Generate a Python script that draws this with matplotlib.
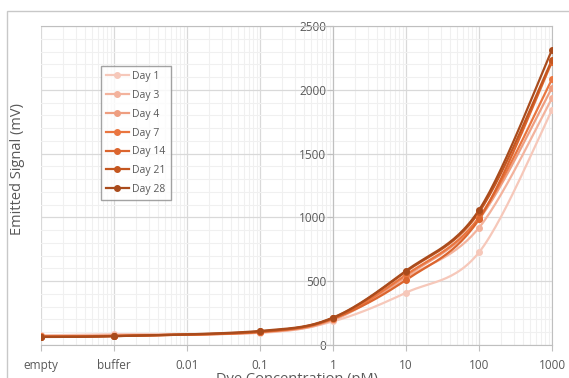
import numpy as np
import matplotlib
matplotlib.use("Agg")
import matplotlib.pyplot as plt
from matplotlib.ticker import LogLocator, MultipleLocator, NullFormatter
from matplotlib.patches import Rectangle

plt.rcParams['font.family'] = ['Open Sans', 'DejaVu Sans']

# concentrations (empty / buffer placed one decade apart below 0.01)
conc = [1e-4, 1e-3, 0.1, 1, 10, 100, 1000]
tick_pos = [1e-4, 1e-3, 0.01, 0.1, 1, 10, 100, 1000]
tick_lab = ["empty", "buffer", "0.01", "0.1", "1", "10", "100", "1000"]

days = ["Day 1", "Day 3", "Day 4", "Day 7", "Day 14", "Day 21", "Day 28"]
day1 = [75, 85, 95, 185, 410, 726, 1842]
day3 = [72, 75, 98, 195, 525, 919, 1933]
day4 = [70, 73, 100, 200, 540, 985, 2016]
day7 = [68, 72, 102, 205, 550, 1000, 2082]
day14 = [66, 70, 104, 208, 510, 985, 2218]
day21 = [64, 70, 106, 212, 575, 1040, 2233]
day28 = [63, 69, 110, 215, 582, 1058, 2312]
series = [day1, day3, day4, day7, day14, day21, day28]
colors = ["#F6C8BA", "#F3B39D", "#EE9E80", "#EA7640", "#DB652E", "#C4561F", "#A94B1C"]


def smooth(xs, ys, n=30):
    # Excel style smoothing (catmull-rom) in log-x space
    lx = np.log10(xs)
    y = np.array(ys, float)
    px = np.concatenate([[lx[0]], lx, [lx[-1]]])
    py = np.concatenate([[y[0]], y, [y[-1]]])
    outx, outy = [], []
    for i in range(1, len(px) - 2):
        p0 = np.array([px[i], py[i]])
        p3 = np.array([px[i + 1], py[i + 1]])
        c1 = p0 + (np.array([px[i + 1], py[i + 1]]) - np.array([px[i - 1], py[i - 1]])) / 6
        c2 = p3 - (np.array([px[i + 2], py[i + 2]]) - np.array([px[i], py[i]])) / 6
        t = np.linspace(0, 1, n)[:, None]
        b = (1 - t) ** 3 * p0 + 3 * (1 - t) ** 2 * t * c1 + 3 * (1 - t) * t ** 2 * c2 + t ** 3 * p3
        outx.extend(b[:, 0])
        outy.extend(b[:, 1])
    return 10 ** np.array(outx), np.array(outy)


fig = plt.figure(figsize=(5.69, 3.78), dpi=100)
fig.patches.append(Rectangle((7 / 569, -0.1), 1.2, 1 - 11 / 378 + 0.1, transform=fig.transFigure,
                             fill=False, edgecolor="#C8C8C8", linewidth=1.0))
ax = fig.add_axes([41 / 569, 33 / 378, 511 / 569, 319 / 378])

for name, vals, c in zip(days, series, colors):
    sx, sy = smooth(conc, vals)
    ax.plot(sx, sy, color=c, linewidth=1.6, zorder=3)
    ax.plot(conc, vals, 'o', color=c, markersize=4, zorder=4)
    ax.plot([], [], '-o', color=c, linewidth=1.6, markersize=4, label=name)

ax.set_xscale("log")
ax.set_xlim(1e-4, 1000)
ax.set_ylim(0, 2500)
ax.set_xticks(tick_pos, tick_lab)
ax.xaxis.set_minor_locator(LogLocator(base=10, subs=np.arange(2, 10), numticks=20))
ax.xaxis.set_minor_formatter(NullFormatter())
ax.yaxis.set_major_locator(MultipleLocator(500))
ax.yaxis.set_minor_locator(MultipleLocator(100))

ax.grid(which="major", color="#D9D9D9", linewidth=0.9)
ax.grid(which="minor", color="#F0F0F0", linewidth=0.8)
ax.set_axisbelow(True)

for s in ["top", "right", "bottom"]:
    ax.spines[s].set_color("#BFBFBF")
ax.spines["left"].set_position(("data", 1))
ax.spines["left"].set_color("#BFBFBF")
ax.spines["left"].set_zorder(2)

ax.tick_params(which="minor", length=0)
ax.tick_params(which="major", colors="#BFBFBF", labelcolor="#595959", labelsize=8.5, length=4, width=0.8)
ax.tick_params(axis="x", pad=6)
ax.tick_params(axis="y", pad=1)

ax.set_xlabel("Dye Concentration (pM)", fontsize=10.5, color="#595959", labelpad=0)
ax.set_ylabel("Emitted Signal (mV)", fontsize=10.5, color="#595959")
ax.yaxis.set_label_coords(-0.031, 0.552)

leg = ax.legend(loc="upper left", bbox_to_anchor=(0.117, 0.875), fontsize=7.5, frameon=True,
                fancybox=False, edgecolor="#8C8C8C", labelspacing=0.75, handlelength=2.2,
                handletextpad=0.3, borderpad=0.5, borderaxespad=0)
leg.get_frame().set_linewidth(1.0)
for t in leg.get_texts():
    t.set_color("#595959")

fig.savefig("out.png", dpi=100)
